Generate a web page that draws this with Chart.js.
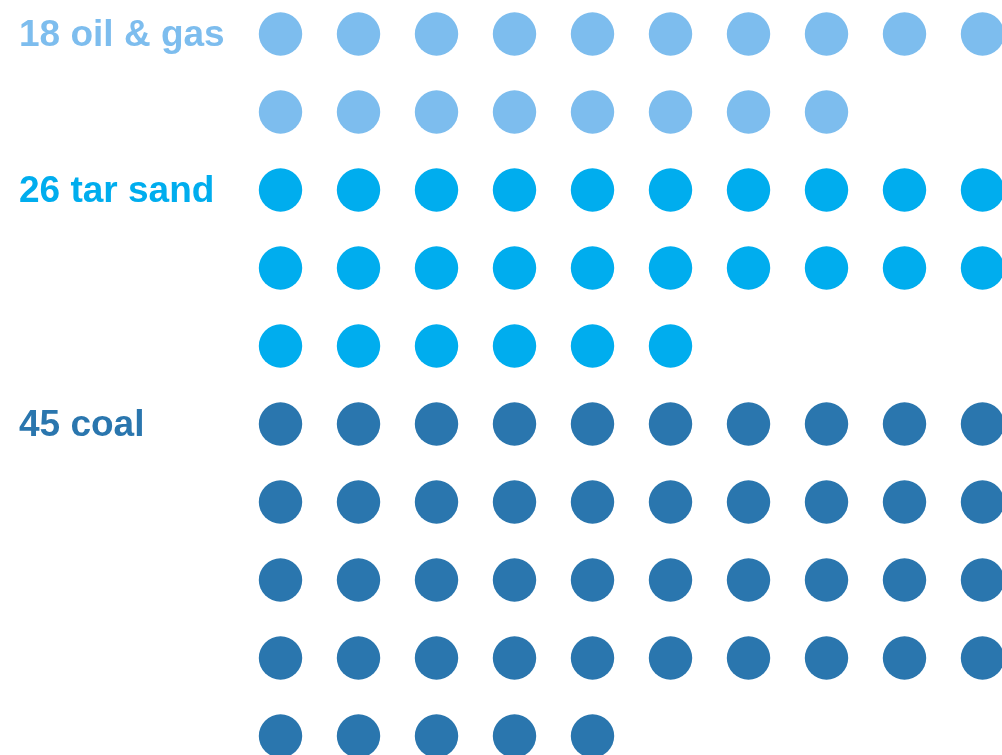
<!DOCTYPE html>
<html>
<head>
<meta charset="utf-8">
<script src="https://cdn.jsdelivr.net/npm/chart.js@4"></script>
<style>
html,body{margin:0;padding:0;background:#fff;}
#wrap{width:1002px;height:755px;position:relative;}
</style>
</head>
<body>
<div id="wrap"><canvas id="c"></canvas></div>
<script>
// ---- data ----
const categories = ['oil & gas', 'tar sand', 'coal'];
const counts = [18, 26, 45];
const colors = ['#7DBDEE', '#00ADEE', '#2A76AE'];
const perRow = 10;

// build dot positions (column, row) from the counts
const datasets = [];
const groupStartRows = [];
let row = 0;
categories.forEach((cat, g) => {
  groupStartRows.push(row);
  const pts = [];
  for (let i = 0; i < counts[g]; i++) {
    pts.push({ x: i % perRow, y: row + Math.floor(i / perRow) });
  }
  row += Math.ceil(counts[g] / perRow);
  datasets.push({
    label: counts[g] + ' ' + cat,
    data: pts,
    backgroundColor: colors[g],
    borderWidth: 0,
    pointRadius: 21.7,
    pointHoverRadius: 21.7,
    clip: false
  });
});

const labelPlugin = {
  id: 'groupLabels',
  afterDatasetsDraw(chart) {
    const ctx = chart.ctx;
    const ys = chart.scales.y;
    ctx.save();
    ctx.font = 'bold 37px "Liberation Sans", Arial, Helvetica, sans-serif';
    ctx.textAlign = 'left';
    ctx.textBaseline = 'alphabetic';
    categories.forEach((cat, g) => {
      ctx.fillStyle = colors[g];
      ctx.fillText(counts[g] + ' ' + cat, 19, ys.getPixelForValue(groupStartRows[g]) + 12);
    });
    ctx.restore();
  }
};

new Chart(document.getElementById('c'), {
  type: 'scatter',
  data: { datasets },
  options: {
    responsive: true,
    maintainAspectRatio: false,
    animation: false,
    layout: { padding: 0, autoPadding: false },
    plugins: { legend: { display: false }, tooltip: { enabled: false } },
    scales: {
      x: { type: 'linear', display: false, min: -280.5 / 78, max: -280.5 / 78 + 1002 / 78 },
      y: { type: 'linear', display: false, reverse: true, min: -34 / 78, max: -34 / 78 + 755 / 78 }
    }
  },
  plugins: [labelPlugin]
});
</script>
</body>
</html>
